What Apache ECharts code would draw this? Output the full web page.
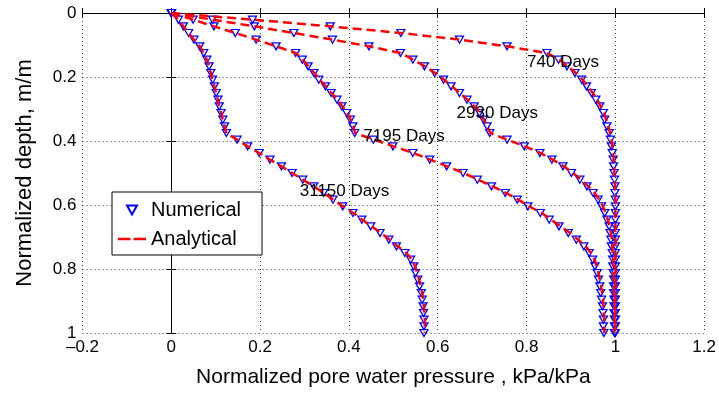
<!DOCTYPE html>
<html><head><meta charset="utf-8">
<script src="https://cdn.jsdelivr.net/npm/echarts@6/dist/echarts.min.js"></script>
<style>html,body{margin:0;padding:0;background:#fff}#c{width:719px;height:394px}</style>
</head><body><div id="c"></div>
<script>
// Normalized depth of the nodes (m/m)
const depth = [0, 0.0208, 0.0417, 0.0625, 0.0833, 0.1042, 0.125, 0.1458, 0.1667, 0.1875, 0.2083, 0.2292, 0.25, 0.2708, 0.2917, 0.3125, 0.3333, 0.3542, 0.375, 0.3958, 0.4167, 0.4375, 0.4583, 0.4792, 0.5, 0.5208, 0.5417, 0.5625, 0.5833, 0.6042, 0.625, 0.6458, 0.6667, 0.6875, 0.7083, 0.7292, 0.75, 0.7708, 0.7917, 0.8125, 0.8333, 0.8542, 0.875, 0.8958, 0.9167, 0.9375, 0.9583, 0.9792, 1];

// Numerical normalized pore water pressure
const num740 = [0, 0.183, 0.358, 0.517, 0.649, 0.756, 0.846, 0.872, 0.891, 0.909, 0.924, 0.935, 0.946, 0.956, 0.965, 0.973, 0.976, 0.981, 0.986, 0.989, 0.991, 0.993, 0.995, 0.996, 0.997, 0.998, 0.999, 0.999, 1, 1, 1, 1, 1, 1, 1, 1, 1, 1, 1, 1, 1, 1, 1, 1, 1, 1, 1, 1, 1];
const num2930 = [0, 0.093, 0.187, 0.276, 0.363, 0.445, 0.516, 0.544, 0.570, 0.593, 0.613, 0.630, 0.649, 0.666, 0.682, 0.694, 0.703, 0.711, 0.717, 0.756, 0.795, 0.830, 0.857, 0.882, 0.901, 0.920, 0.936, 0.950, 0.961, 0.969, 0.976, 0.981, 0.986, 0.988, 0.990, 0.991, 0.993, 0.994, 0.994, 0.995, 0.996, 0.996, 0.996, 0.997, 0.997, 0.997, 0.998, 0.998, 0.998];
const num7195 = [0, 0.049, 0.096, 0.144, 0.191, 0.236, 0.280, 0.295, 0.308, 0.321, 0.332, 0.347, 0.360, 0.373, 0.384, 0.395, 0.403, 0.409, 0.413, 0.455, 0.499, 0.544, 0.582, 0.620, 0.657, 0.689, 0.721, 0.752, 0.779, 0.803, 0.831, 0.851, 0.873, 0.894, 0.912, 0.929, 0.941, 0.949, 0.954, 0.959, 0.962, 0.965, 0.967, 0.969, 0.971, 0.972, 0.973, 0.973, 0.974];
const num31150 = [0, 0.016, 0.027, 0.039, 0.051, 0.064, 0.073, 0.080, 0.085, 0.089, 0.093, 0.097, 0.101, 0.105, 0.108, 0.112, 0.116, 0.120, 0.124, 0.148, 0.172, 0.198, 0.222, 0.248, 0.272, 0.296, 0.321, 0.343, 0.364, 0.386, 0.409, 0.429, 0.449, 0.470, 0.490, 0.507, 0.526, 0.539, 0.546, 0.550, 0.555, 0.559, 0.563, 0.565, 0.567, 0.568, 0.569, 0.569, 0.569];

// Analytical normalized pore water pressure
const ana740 = [0, 0.183, 0.358, 0.517, 0.649, 0.756, 0.846, 0.874, 0.893, 0.911, 0.926, 0.938, 0.949, 0.959, 0.967, 0.975, 0.979, 0.984, 0.988, 0.991, 0.993, 0.995, 0.996, 0.997, 0.998, 0.999, 0.999, 1, 1, 1, 1, 1, 1, 1, 1, 1, 1, 1, 1, 1, 1, 1, 1, 1, 1, 1, 1, 1, 1];
const ana2930 = [0, 0.093, 0.187, 0.276, 0.363, 0.445, 0.516, 0.545, 0.571, 0.594, 0.614, 0.632, 0.650, 0.667, 0.683, 0.695, 0.704, 0.712, 0.718, 0.757, 0.796, 0.831, 0.859, 0.884, 0.904, 0.923, 0.939, 0.953, 0.964, 0.972, 0.978, 0.983, 0.987, 0.990, 0.992, 0.993, 0.994, 0.995, 0.996, 0.996, 0.997, 0.997, 0.997, 0.998, 0.998, 0.998, 0.998, 0.998, 0.998];
const ana7195 = [0, 0.049, 0.096, 0.144, 0.191, 0.236, 0.280, 0.296, 0.309, 0.322, 0.334, 0.348, 0.361, 0.374, 0.385, 0.396, 0.404, 0.410, 0.414, 0.456, 0.500, 0.545, 0.583, 0.621, 0.658, 0.691, 0.723, 0.754, 0.781, 0.806, 0.834, 0.855, 0.877, 0.898, 0.916, 0.933, 0.945, 0.953, 0.958, 0.962, 0.965, 0.968, 0.970, 0.972, 0.973, 0.974, 0.975, 0.975, 0.975];
const ana31150 = [0, 0.016, 0.027, 0.039, 0.051, 0.064, 0.073, 0.080, 0.085, 0.089, 0.093, 0.097, 0.101, 0.105, 0.108, 0.112, 0.116, 0.120, 0.124, 0.148, 0.172, 0.198, 0.222, 0.248, 0.272, 0.296, 0.321, 0.343, 0.365, 0.387, 0.410, 0.430, 0.451, 0.472, 0.492, 0.510, 0.529, 0.542, 0.549, 0.554, 0.558, 0.562, 0.565, 0.567, 0.569, 0.570, 0.571, 0.571, 0.571];

// Curve annotations (text, pressure, depth)
const dayLabels = ['740 Days', '2930 Days', '7195 Days', '31150 Days'];
const labelX = [0.882, 0.734, 0.524, 0.390];
const labelDepth = [0.154, 0.312, 0.384, 0.558];

const xTicks = {min: -0.2, max: 1.2, interval: 0.2};
const yTicks = {min: 0, max: 1, interval: 0.2};

const FONT = '"Liberation Sans", Arial, Helvetica, sans-serif';
const pairs = arr => arr.map((v, i) => [v, depth[i]]);
const TRI = 'path://M0,0L10,0L5,9Z';
const DASH_ICON = 'path://M0,0h12v2.6h-12z M15,0h12v2.6h-12z';

const numSets = [num740, num2930, num7195, num31150];
const anaSets = [ana740, ana2930, ana7195, ana31150];

const series = [];
numSets.forEach(a => series.push({
  type: 'scatter', name: 'Numerical', data: pairs(a),
  symbol: TRI, symbolSize: [8, 7],
  itemStyle: {color: 'rgba(0,0,0,0)', borderColor: '#0000ff', borderWidth: 1.3, opacity: 1},
  z: 2, silent: true
}));
anaSets.forEach(a => series.push({
  type: 'line', name: 'Analytical', data: pairs(a),
  symbol: 'none', showSymbol: false,
  lineStyle: {color: '#ff0000', width: 2.5, type: [9, 5]},
  itemStyle: {color: '#ff0000'},
  z: 3, silent: true
}));
series.push({
  type: 'scatter', name: 'labels',
  data: dayLabels.map((t, i) => ({name: t, value: [labelX[i], labelDepth[i]]})),
  symbolSize: 1, itemStyle: {color: 'rgba(0,0,0,0)', opacity: 1},
  label: {show: true, position: 'inside', formatter: '{b}', fontSize: 17, color: '#000', fontFamily: FONT},
  z: 5, silent: true
});

const fmt = v => { const s = Math.round(v * 10) / 10; return (s < 0 ? '\u2013' : '') + String(Math.abs(s)); };
const axisLine = {show: true, lineStyle: {color: '#000', width: 1}};
const tick = {show: true, inside: true, length: 5, lineStyle: {color: '#000'}};
const split = {show: true, lineStyle: {type: [1, 3], color: '#333', width: 1}};

const option = {
  animation: false,
  backgroundColor: '#fff',
  textStyle: {fontFamily: FONT},
  grid: {left: 82.5, right: 11, top: 13, bottom: 61},
  legend: {
    data: [
      {name: 'Numerical', icon: TRI},
      {name: 'Analytical', icon: DASH_ICON, itemStyle: {color: '#ff0000', borderWidth: 0}}
    ],
    orient: 'vertical', left: 112, top: 192,
    padding: [8, 21, 6, 6], itemGap: 9, itemWidth: 28, itemHeight: 9,
    backgroundColor: '#fff', borderColor: '#000', borderWidth: 1,
    textStyle: {fontSize: 20, color: '#000', fontFamily: FONT},
    selectedMode: false
  },
  xAxis: [
    Object.assign({type: 'value', position: 'bottom', axisLine, axisTick: tick, splitLine: split,
      axisLabel: {fontSize: 17, color: '#000', margin: 6, formatter: fmt, fontFamily: FONT},
      name: 'Normalized pore water pressure , kPa/kPa', nameLocation: 'middle', nameGap: 34,
      nameTextStyle: {fontSize: 21, color: '#000', fontFamily: FONT}}, xTicks),
    Object.assign({type: 'value', position: 'top', axisLine, axisTick: tick,
      splitLine: {show: false}, axisLabel: {show: false}}, xTicks)
  ],
  yAxis: [
    Object.assign({type: 'value', inverse: true, position: 'left', axisLine, axisTick: tick, splitLine: split,
      axisLabel: {fontSize: 17, color: '#000', margin: 6, formatter: fmt, fontFamily: FONT},
      name: 'Normalized depth, m/m', nameLocation: 'middle', nameGap: 47, nameRotate: 90,
      nameTextStyle: {fontSize: 22, color: '#000', fontFamily: FONT}}, yTicks),
    Object.assign({type: 'value', inverse: true, position: 'right', axisLine, axisTick: tick,
      splitLine: {show: false}, axisLabel: {show: false}}, yTicks)
  ],
  series
};
const chart = echarts.init(document.getElementById('c'));
chart.setOption(option);
</script></body></html>
